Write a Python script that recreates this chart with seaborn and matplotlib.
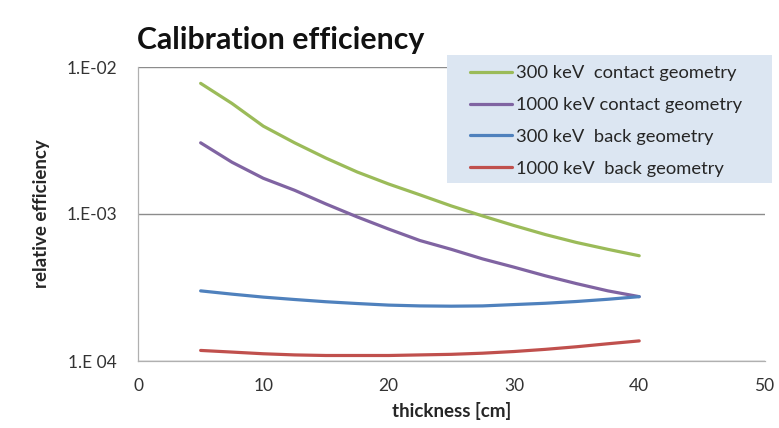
import numpy as np
import pandas as pd
import matplotlib
matplotlib.use("Agg")
import matplotlib.pyplot as plt
from matplotlib.patches import Rectangle
import seaborn as sns

# ----------------------------------------
# Data
# ----------------------------------------
thickness = [5, 7.5, 10, 12.5, 15, 17.5, 20, 22.5, 25, 27.5, 30, 32.5, 35, 37.5, 40]

green_300_contact = [7.74e-3, 5.65e-3, 3.96e-3, 3.05e-3, 2.4e-3, 1.93e-3, 1.6e-3, 1.35e-3,
                     1.135e-3, 9.7e-4, 8.35e-4, 7.25e-4, 6.4e-4, 5.75e-4, 5.2e-4]
purple_1000_contact = [3.05e-3, 2.25e-3, 1.75e-3, 1.45e-3, 1.17e-3, 9.55e-4, 7.9e-4, 6.6e-4,
                       5.75e-4, 4.95e-4, 4.35e-4, 3.8e-4, 3.36e-4, 3.0e-4, 2.74e-4]
blue_300_back = [3.0e-4, 2.85e-4, 2.72e-4, 2.62e-4, 2.53e-4, 2.46e-4, 2.40e-4, 2.37e-4,
                 2.36e-4, 2.37e-4, 2.42e-4, 2.47e-4, 2.54e-4, 2.63e-4, 2.74e-4]
red_1000_back = [1.18e-4, 1.15e-4, 1.12e-4, 1.10e-4, 1.09e-4, 1.09e-4, 1.09e-4, 1.10e-4,
                 1.11e-4, 1.13e-4, 1.16e-4, 1.20e-4, 1.25e-4, 1.31e-4, 1.37e-4]

series_names = [
    "300 keV  contact geometry",
    "1000 keV contact geometry",
    "300 keV  back geometry",
    "1000 keV  back geometry",
]
series_values = [green_300_contact, purple_1000_contact, blue_300_back, red_1000_back]
colors = ["#9bbb59", "#8064a2", "#4f81bd", "#c0504d"]

y_ticks = [1e-4, 1e-3, 1e-2]
y_tick_labels = ["1.E 04", "1.E-03", "1.E-02"]
x_ticks = [0, 10, 20, 30, 40, 50]

df = pd.concat(
    [pd.DataFrame({"thickness": thickness, "efficiency": v, "series": n})
     for n, v in zip(series_names, series_values)],
    ignore_index=True,
)

# ----------------------------------------
# Visualization
# ----------------------------------------
sns.set_style("white")
plt.rcParams["font.family"] = ["Lato", "DejaVu Sans"]

W, H = 779, 428
fig = plt.figure(figsize=(W / 100, H / 100), dpi=100)
ax = fig.add_axes([138 / W, 1 - 361 / H, (764.5 - 138) / W, (361 - 67) / H])

sns.lineplot(
    data=df, x="thickness", y="efficiency", hue="series",
    hue_order=series_names, palette=colors, linewidth=2.3, ax=ax,
)

ax.set_yscale("log")
ax.set_ylim(1e-4, 1e-2)
ax.set_xlim(0, 50)
ax.set_yticks(y_ticks)
ax.set_yticklabels(y_tick_labels)
ax.minorticks_off()
ax.set_xticks(x_ticks)
ax.yaxis.grid(True, color="#8c8c8c", linewidth=1.0)
ax.set_axisbelow(True)

for side in ["top", "right"]:
    ax.spines[side].set_visible(False)
for side in ["left", "bottom"]:
    ax.spines[side].set_color("#b0b0b0")
    ax.spines[side].set_linewidth(0.9)

ax.tick_params(axis="both", colors="#b0b0b0", length=4, width=0.9,
               labelcolor="#333333", labelsize=12.5, direction="out")
ax.tick_params(axis="y", pad=11)
ax.tick_params(axis="x", pad=8)

ax.set_xlabel("thickness [cm]", fontsize=13.5, fontweight="bold", labelpad=6)
ax.set_ylabel("relative efficiency", fontsize=13.5, fontweight="bold", labelpad=12)

fig.text(137 / W, 1 - 40 / H, "Calibration efficiency", fontsize=21.8,
         fontweight="bold", va="center", ha="left", color="#111111")

# legend background box
ax.add_patch(Rectangle((447 / W, 1 - 183 / H), (772 - 447) / W, (183 - 55) / H,
                       transform=fig.transFigure, facecolor="#dce6f2",
                       edgecolor="none", zorder=3, clip_on=False))

leg = ax.legend(
    loc="upper left", bbox_to_anchor=(470 / W, 1 - 65 / H),
    bbox_transform=fig.transFigure, frameon=False,
    fontsize=13.2, handlelength=2.3, handletextpad=0.22,
    labelspacing=0.87, borderpad=0, borderaxespad=0,
)
leg.set_zorder(5)
for line in leg.get_lines():
    line.set_linewidth(2.3)

fig.savefig("out.png", dpi=100)
